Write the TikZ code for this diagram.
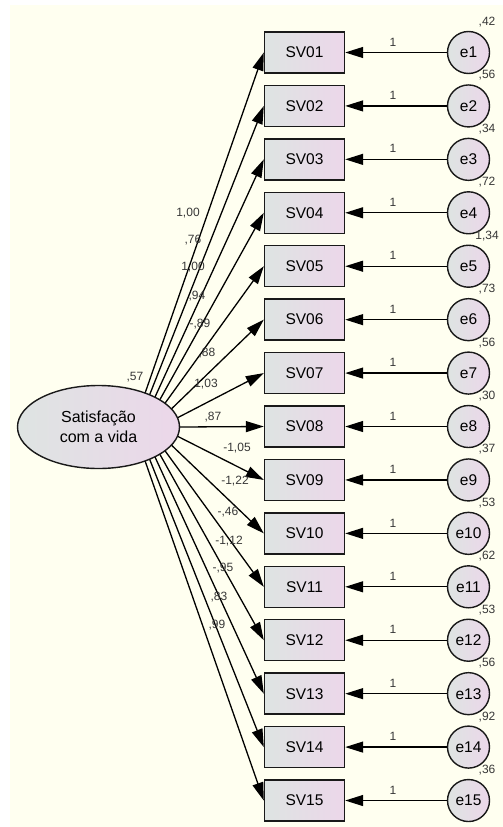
\documentclass[tikz,border=0pt]{standalone}
\usepackage{fontspec}
\setmainfont{Liberation Sans}
\usetikzlibrary{arrows.meta,shapes.geometric,calc}
\definecolor{bg}{RGB}{255,255,240}
\definecolor{gl}{RGB}{222,228,226}
\definecolor{gr}{RGB}{236,215,234}
\definecolor{edgec}{RGB}{25,25,25}
\definecolor{lbl}{RGB}{55,55,55}
\begin{document}
\begin{tikzpicture}[x=1pt,y=-1pt,
  obs/.style={draw=edgec,line width=1.4pt,minimum width=80pt,minimum height=41pt,inner sep=0pt,
    left color=gl,right color=gr,font=\fontsize{15.5}{18}\selectfont},
  err/.style={circle,draw=edgec,line width=1.4pt,minimum size=42pt,inner sep=0pt,
    left color=gl,right color=gr,font=\fontsize{15.5}{18}\selectfont},
  lat/.style={ellipse,draw=edgec,line width=1.4pt,minimum width=162pt,minimum height=83pt,inner sep=0pt,
    left color=gl,right color=gr,align=center,font=\fontsize{16}{20}\selectfont},
  reg/.style={line width=1.3pt,draw=black,-{Triangle[length=18pt,width=11pt]}},
  lab/.style={font=\fontsize{12}{14}\selectfont,text=lbl,inner sep=0pt}]
\useasboundingbox (0,0) rectangle (503,827);
\fill[white] (0,0) rectangle (503,827);
\fill[bg] (10,5) rectangle (503,827);
\node[lat] (L) at (98.5,427) {Satisfação\\com a vida};
\node[lab] (vL) at (135,377) {,57};
\foreach \i/\n/\a/\v in {1/01/55/{,42},2/02/51/{,56},3/03/46/{,34},4/04/41/{,72},5/05/35/{1,34},
  6/06/26/{,73},7/07/13/{,56},8/08/0/{,30},9/09/-13/{,37},10/10/-26/{,53},11/11/-35/{,62},
  12/12/-41/{,53},13/13/-46/{,56},14/14/-51/{,92},15/15/-55/{,36}}{
  \pgfmathsetmacro\yy{52.5+(\i-1)*53.43}
  \node[obs] (SV\n) at (304.5,\yy) {SV\n};
  \node[err] (e\i) at (468.5,\yy) {e\i};
  \draw[reg] (e\i) -- (SV\n);
  \node[lab] (one\i) at (393,\yy-10.5) {1};
  \node[lab] (var\i) at (487,\yy-30.5) {\v};
  \coordinate (s\i) at ($(L.center)+({81.5*cos(\a)},{-42*sin(\a)})$);
  \draw[reg] (s\i) -- (SV\n.west);
}
\foreach \k/\x/\y/\t in {1/188/213/{1,00},2/193/240/{,76},3/193/267/{1,00},4/197/296/{,94},
  5/200/324/{-,89},6/207/353/{,88},7/206/384/{1,03},8/213/417/{,87},9/237/448/{-1,05},
  10/235/481/{-1,22},11/228/512/{-,46},12/229/541/{-1,12},13/223/568/{-,95},14/219/597/{,83},
  15/217/625/{,99}}{
  \node[lab] (w\k) at (\x,\y) {\t};
}
\end{tikzpicture}
\end{document}
